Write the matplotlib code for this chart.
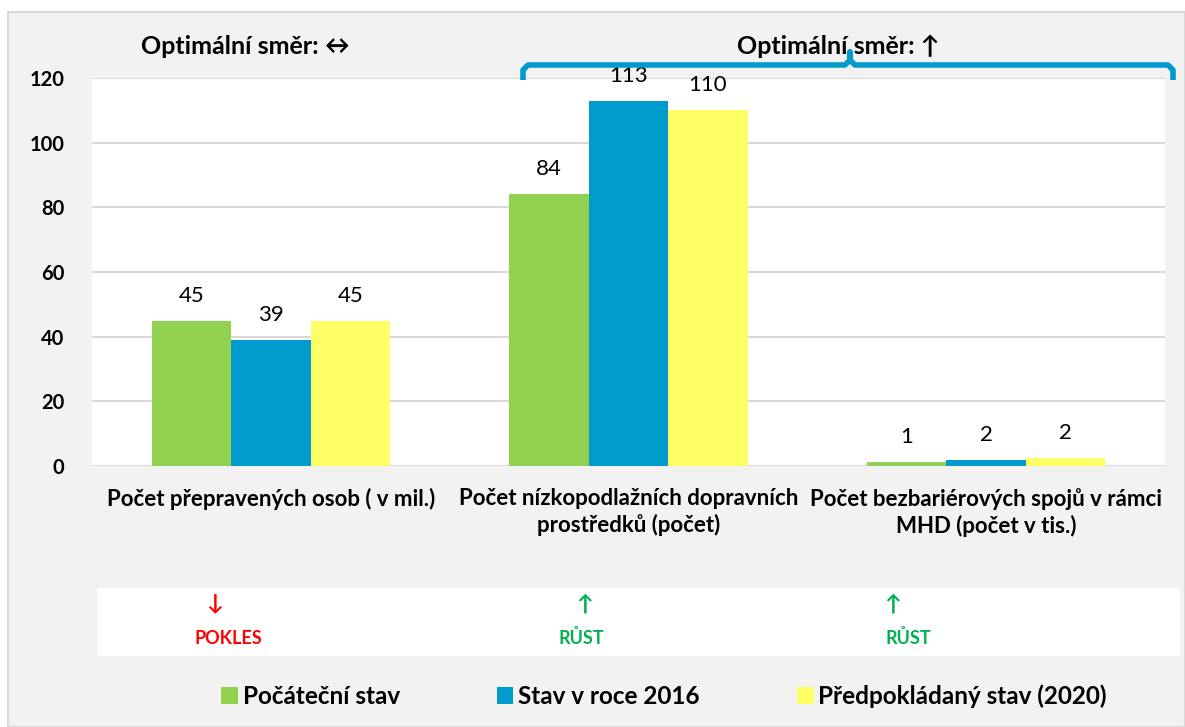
import numpy as np
import matplotlib
matplotlib.use('Agg')
import matplotlib.pyplot as plt
from matplotlib.patches import Rectangle
from matplotlib.lines import Line2D

plt.rcParams['font.family'] = ['Lato', 'DejaVu Sans']

categories = ['Počet přepravených osob ( v mil.)',
              'Počet nízkopodlažních dopravních\nprostředků (počet)',
              'Počet bezbariérových spojů v rámci\nMHD (počet v tis.)']
series_names = ['Počáteční stav', 'Stav v roce 2016', 'Předpokládaný stav (2020)']
start = [45, 84, 1.2]
stav2016 = [39, 113, 2.0]
plan2020 = [45, 110, 2.4]
colors = ['#92D050', '#009ACD', '#FFFF66']
trend_arrows = ['↓', '↑', '↑']
trend_texts = ['POKLES', 'RŮST', 'RŮST']
trend_colors = ['#FF0000', '#00B050', '#00B050']

W, H = 1185, 727
fig = plt.figure(figsize=(W / 100, H / 100), dpi=100, facecolor='white')

def fx(x):
    return x / W

def fy(y):
    return 1 - y / H

# gray background panel with border
fig.add_artist(Rectangle((fx(8), 0), fx(1185 - 8), fy(12), transform=fig.transFigure,
                         facecolor='#F2F2F2', edgecolor='#D9D9D9', linewidth=1.5, zorder=0))

ax = fig.add_axes([fx(92), fy(466), fx(1165 - 92), (466 - 78) / H])
ax.set_facecolor('white')

x = np.arange(len(categories))
bw = 0.222
for i, (vals, name) in enumerate(zip([start, stav2016, plan2020], series_names)):
    bars = ax.bar(x + (i - 1) * bw, vals, bw, color=colors[i], label=name, zorder=3)
    for b, v in zip(bars, vals):
        ax.annotate('%.0f' % v, (b.get_x() + b.get_width() / 2, b.get_height()),
                    xytext=(0, 18), textcoords='offset points', ha='center', va='center',
                    fontsize=16, color='black')

ax.set_xlim(-0.5, 2.5)
ax.set_ylim(0, 120)
ax.set_yticks(np.arange(0, 121, 20))
ax.grid(axis='y', color='#D9D9D9', linewidth=1.5, zorder=0)
for s in ax.spines.values():
    s.set_visible(False)
ax.tick_params(axis='y', length=0, pad=20, labelsize=14.5)
for t in ax.get_yticklabels():
    t.set_fontweight('bold')
ax.set_xticks(x)
ax.set_xticklabels(categories, fontsize=16, fontweight='bold', linespacing=1.25)
ax.tick_params(axis='x', length=0, pad=16)

# direction headings
fig.text(fx(245), fy(47), 'Optimální směr: ↔', ha='center', va='center',
         fontsize=18, fontweight='bold')
fig.text(fx(838), fy(46), 'Optimální směr: ↑', ha='center', va='center',
         fontsize=18, fontweight='bold')

# bracket above the second and third groups
bx = [523, 523, 528, 845, 850, 850, 850, 855, 1168, 1173, 1173]
by = [80, 70, 65, 65, 60, 52, 60, 65, 65, 70, 80]
fig.add_artist(Line2D([fx(v) for v in bx], [fy(v) for v in by], transform=fig.transFigure,
                      color='#009ACD', linewidth=4, solid_joinstyle='round',
                      solid_capstyle='butt'))

# trend box
fig.add_artist(Rectangle((fx(97), fy(656)), fx(1180 - 97), (656 - 588) / H,
                         transform=fig.transFigure, facecolor='white', edgecolor='none'))
arrow_x = [215, 585, 893]
text_x = [228, 581, 908]
for ax_, tx, a, t, c in zip(arrow_x, text_x, trend_arrows, trend_texts, trend_colors):
    fig.text(fx(ax_), fy(604), a, ha='center', va='center', fontsize=16,
             fontweight='bold', color=c)
    fig.text(fx(tx), fy(638), t, ha='center', va='center', fontsize=13,
             fontweight='bold', color=c)

leg = fig.legend(loc='center', bbox_to_anchor=(fx(664), fy(696)), ncol=3, frameon=False,
                 handlelength=0.68, handleheight=0.68, handletextpad=0.2,
                 columnspacing=4.0, prop={'size': 17.5, 'weight': 'bold'})

fig.savefig('out.png', dpi=100, facecolor=fig.get_facecolor())
